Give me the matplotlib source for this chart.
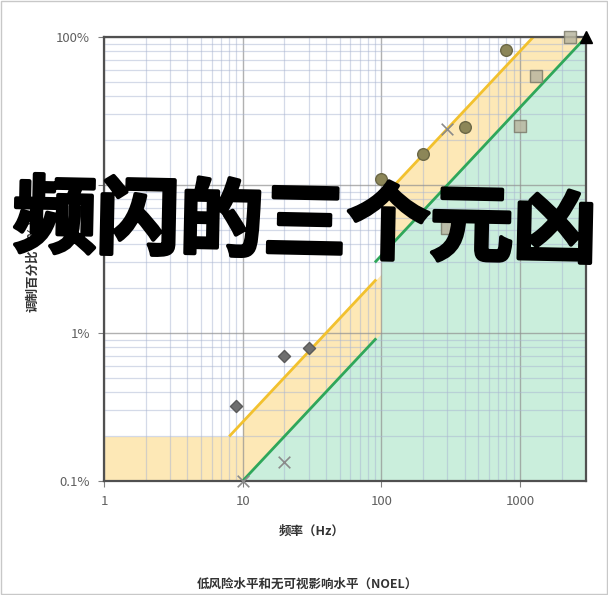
import matplotlib
matplotlib.use('Agg')
import matplotlib.pyplot as plt
import matplotlib.patheffects as pe
from matplotlib.ticker import LogLocator, NullFormatter, FixedLocator, FixedFormatter
from matplotlib.patches import Rectangle

plt.rcParams['font.family'] = ['Noto Sans CJK SC', 'DejaVu Sans']

# ---- data (frequency in Hz, modulation in %) ----
low_f_lo = [8, 92]
low_m_lo = [0.2, 2.3]
low_f_hi = [90, 1250]
low_m_hi = [7.2, 100]
noel_f_lo = [10, 92]
noel_m_lo = [0.1, 0.92]
noel_f_hi = [90, 3000]
noel_m_hi = [3.0, 100]

low_fill_f = [1, 10, 10, 100, 100, 1250, 3000]
low_fill_m = [0.2, 0.2, 0.25, 2.5, 8, 100, 100]
noel_fill_f = [10, 100, 100, 3000]
noel_fill_m = [0.1, 1.0, 3.33, 100]

diamond_f = [9, 20, 30]
diamond_m = [0.32, 0.70, 0.79]
cross_f = [10, 20, 300]
cross_m = [0.1, 0.134, 24]
circle_f = [100, 200, 400, 800]
circle_m = [11, 16.2, 24.6, 82]
square_f = [300, 1000, 1300, 2300]
square_m = [5.1, 25, 54.5, 100]

xticks = [1, 10, 100, 1000]
xticklabels = ['1', '10', '100', '1000']
yticks = [0.1, 1, 10, 100]
yticklabels = ['0.1%', '1%', '10%', '100%']

W, H = 608, 595
fig = plt.figure(figsize=(W / 100, H / 100), dpi=100)
ax = fig.add_axes([104 / W, 1 - 481 / H, (586 - 104) / W, (481 - 37) / H])
ax.set_xscale('log')
ax.set_yscale('log')
ax.set_xlim(1, 3000)
ax.set_ylim(0.1, 100)

# fills
ax.fill_between(low_fill_f, 0.1, low_fill_m, color='#fde8b6', lw=0, zorder=1)
ax.fill_between(noel_fill_f, 0.1, noel_fill_m, color='#caeedc', lw=0, zorder=1.1)

# grid
ax.set_axisbelow(False)
ax.xaxis.set_minor_locator(LogLocator(base=10, subs=range(2, 10), numticks=30))
ax.yaxis.set_minor_locator(LogLocator(base=10, subs=range(2, 10), numticks=30))
ax.xaxis.set_minor_formatter(NullFormatter())
ax.yaxis.set_minor_formatter(NullFormatter())
ax.grid(which='minor', color='#aab6d2', alpha=0.5, lw=0.9, zorder=1.5)
ax.grid(which='major', color='#909090', alpha=0.7, lw=1.0, zorder=1.5)

# limit lines
ax.plot(low_f_lo, low_m_lo, color='#f2c12e', lw=2, zorder=3, solid_capstyle='butt')
ax.plot(low_f_hi, low_m_hi, color='#f2c12e', lw=2, zorder=3, solid_capstyle='butt')
ax.plot(noel_f_lo, noel_m_lo, color='#2fa75a', lw=2, zorder=3, solid_capstyle='butt')
ax.plot(noel_f_hi, noel_m_hi, color='#2fa75a', lw=2, zorder=3, solid_capstyle='butt')
ax.plot([noel_f_hi[-1]], [noel_m_hi[-1]], marker='^', color='black', ms=9, zorder=6, clip_on=False)

# measured points
ax.scatter(diamond_f, diamond_m, marker='D', s=38, c='#6f6f6f', edgecolors='#5a5a5a', zorder=5)
ax.scatter(cross_f, cross_m, marker='x', s=70, c='#8a8a8a', linewidths=1.2, zorder=5, clip_on=False)
ax.scatter(circle_f, circle_m, marker='o', s=70, c='#8c8658', edgecolors='#6b6745', linewidths=1, zorder=5)
ax.scatter(square_f, square_m, marker='s', s=70, c='#b9b6a0', edgecolors='#7d7c6c', linewidths=1,
           alpha=0.85, zorder=5, clip_on=False)

# ticks
ax.xaxis.set_major_locator(FixedLocator(xticks))
ax.xaxis.set_major_formatter(FixedFormatter(xticklabels))
ax.yaxis.set_major_locator(FixedLocator(yticks))
ax.yaxis.set_major_formatter(FixedFormatter(yticklabels))
ax.tick_params(which='major', length=4, color='#808080', labelcolor='#606060', labelsize=9.5)
ax.tick_params(axis='x', which='major', pad=6)
ax.tick_params(axis='y', which='major', pad=6)
ax.tick_params(which='minor', length=0)

for s in ax.spines.values():
    s.set_color('#505050')
    s.set_linewidth(1.6)
    s.set_zorder(4)

# labels
fig.text(312 / W, 1 - 531 / H, '频率（Hz）', ha='center', va='center', fontsize=9,
         fontweight='bold', color='#333333')
fig.text(33 / W, 1 - 262 / H, '调制百分比（%）', ha='center', va='center', fontsize=9,
         fontweight='bold', color='#333333', rotation=90)
fig.text(307 / W, 1 - 584 / H, '低风险水平和无可视影响水平（NOEL）', ha='center', va='center',
         fontsize=9, fontweight='bold', color='#333333')

# overlay title
fig.text(305 / W, 1 - 226 / H, '频闪的三个元凶', ha='center', va='center', fontsize=60,
         fontweight='black', color='black', rotation=-1.2, zorder=10,
         path_effects=[pe.withStroke(linewidth=3, foreground='black')])

# figure border
fig.patches.append(Rectangle((0.002, 0.002), 0.996, 0.996, transform=fig.transFigure,
                             fill=False, edgecolor='#c8c8c8', lw=1))

fig.savefig('out.png', dpi=100)
